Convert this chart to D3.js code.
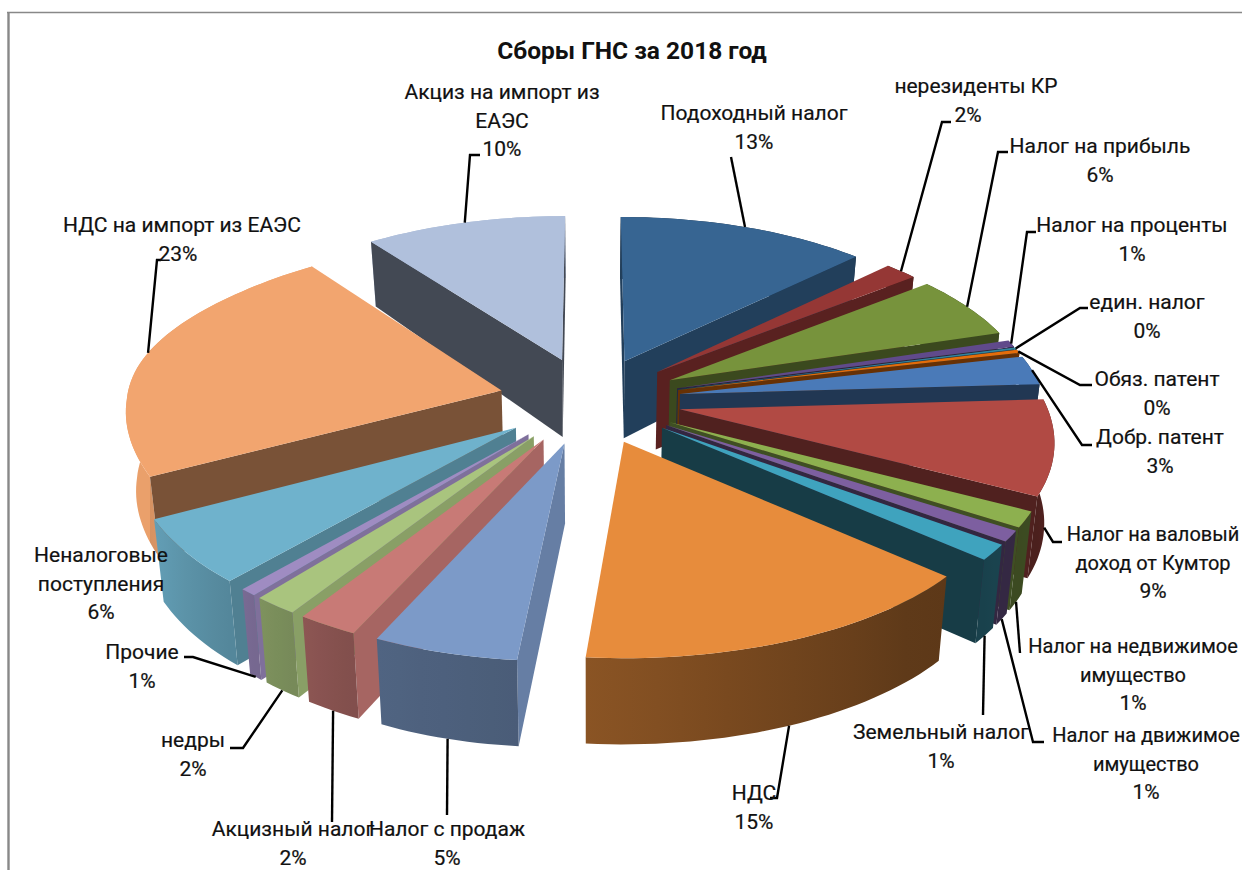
<!DOCTYPE html>
<html lang="ru">
<head>
    <meta charset="utf-8">
    <title>Сборы ГНС за 2018 год</title>
    <script src="https://cdn.jsdelivr.net/npm/d3@7"></script>
</head>
<style>
    body {
        margin: 0;
        padding: 0;
        background-color: #ffffff;
    }
    svg {
        display: block;
    }
    .label {
        font-family: Roboto, sans-serif;
        font-size: 21px;
        fill: #111111;
        stroke: #111111;
        stroke-width: 0.2;
        text-anchor: middle;
    }
    .chart-title {
        font-family: Roboto, sans-serif;
        font-size: 24.5px;
        font-weight: 700;
        fill: #111111;
        text-anchor: middle;
    }
    .leader {
        fill: none;
        stroke: #000000;
        stroke-width: 2.4;
    }
</style>
<body>
    <svg width="1242" height="870" id="chart"></svg>

    <script>
        // values, the labels are these rounded
        var categories = ["Подоходный налог", "нерезиденты КР", "Налог на прибыль", "Налог на проценты",
            "един. налог", "Обяз. патент", "Добр. патент", "Налог на валовый доход от Кумтор",
            "Налог на недвижимое имущество", "Налог на движимое имущество", "Земельный налог", "НДС",
            "Налог с продаж", "Акцизный налог", "недры", "Прочие", "Неналоговые поступления",
            "НДС на импорт из ЕАЭС", "Акциз на импорт из ЕАЭС"];
        var shares = [12.7, 1.67, 5.92, 0.64, 0.17, 0.31, 2.67, 8.56, 1.42, 0.97, 1.39, 14.86,
            5.45, 2.3, 1.7, 0.64, 5.83, 22.55, 10.2];
        var colors = ["#376592", "#953735", "#77933c", "#604a8b", "#31859c", "#e46c0a", "#4a7ab8", "#b14a44",
            "#8db04f", "#7d5fa0", "#3fa3be", "#e78c3c", "#7c9ac8", "#c87a76", "#a9c47e", "#9f8cc2",
            "#6fb2cc", "#f2a56f", "#b0c0dc"];

        // label layout: text lines, centre x, first baseline, leader elbows, leader from wall foot or not
        var labelLayout = [
            {lines: ["Подоходный налог"], x: 754, y: 120, elbows: [[731, 157]]},
            {lines: ["нерезиденты КР"], x: 976, y: 93, percentX: 968, elbows: [[942, 122], [951, 122]]},
            {lines: ["Налог на прибыль"], x: 1100, y: 153, elbows: [[998, 152], [1008, 152]]},
            {lines: ["Налог на проценты"], x: 1132, y: 232, elbows: [[1027, 232], [1036, 232]]},
            {lines: ["един. налог"], x: 1147, y: 309, elbows: [[1080, 308], [1088, 308]]},
            {lines: ["Обяз. патент"], x: 1157, y: 386, elbows: [[1080, 385], [1092, 385]]},
            {lines: ["Добр. патент"], x: 1160, y: 444, elbows: [[1082, 445], [1092, 445]]},
            // these three touch the right edge in the reference, a bit smaller keeps them whole
            {lines: ["Налог на валовый", "доход от Кумтор"], x: 1153, y: 541, size: 20, elbows: [[1053, 542], [1062, 542]], foot: true},
            {lines: ["Налог на недвижимое", "имущество"], x: 1133, y: 653, size: 20, elbows: [[1020, 653]], foot: true},
            {lines: ["Налог на движимое", "имущество"], x: 1146, y: 742, size: 20, elbows: [[1033, 742], [1044, 742]], foot: true},
            {lines: ["Земельный налог"], x: 941, y: 739, elbows: [[983, 715]], foot: true},
            {lines: ["НДС"], x: 754, y: 800, elbows: [[777, 798], [770, 798]], foot: true},
            {lines: ["Налог с продаж"], x: 447, y: 836, elbows: [[447, 815]], foot: true},
            {lines: ["Акцизный налог"], x: 293, y: 836, elbows: [[332, 822]], foot: true},
            {lines: ["недры"], x: 193, y: 747, elbows: [[243, 748], [230, 748]], foot: true},
            {lines: ["Прочие"], x: 142, y: 659, elbows: [[193, 657], [184, 657]], foot: true},
            {lines: ["Неналоговые", "поступления"], x: 101, y: 562, elbows: null},
            {lines: ["НДС на импорт из ЕАЭС"], x: 182, y: 232, percentX: 178, elbows: [[157, 260], [161, 260]]},
            {lines: ["Акциз на импорт из", "ЕАЭС"], x: 502, y: 99, elbows: [[470, 155], [480, 155]]}
        ];

        var svg = d3.select("#chart"),
            defs = svg.append("defs");

        // frame of the pasted chart
        svg.append("line").attr("x1", 7).attr("x2", 1242).attr("y1", 12.5).attr("y2", 12.5)
            .attr("stroke", "#888888").attr("stroke-width", 1.6);
        svg.append("line").attr("x1", 8.5).attr("x2", 8.5).attr("y1", 12).attr("y2", 870)
            .attr("stroke", "#888888").attr("stroke-width", 2.4);

        svg.append("text").attr("class", "chart-title").attr("x", 632).attr("y", 59)
            .text("Сборы ГНС за 2018 год");

        // the ground plane: pie units to pixels, with the near side stretched
        var cx = 590, cy = 400, radius = 365, depth = 174,
            perspNear = 0.15, perspFar = 0.125, perspY = 0.138, explode = 0.25;

        var wallHeight = d3.scaleLinear().domain([-1.03, -0.24, 1.2]).range([65, 77, 86]);
        var rimShade = d3.scaleLinear()
            .domain([90, 125, 135, 185, 205, 215, 240, 270])
            .range([0.45, 0.42, 0.39, 0.6, 0.65, 0.72, 0.88, 0.97])
            .clamp(true);
        var cutShade = d3.scaleLinear()
            .domain([23, 48, 62, 74, 120, 128, 158, 194, 208, 220, 231, 282, 341])
            .range([0.62, 0.6, 0.5, 0.45, 0.45, 0.37, 0.4, 0.82, 0.83, 0.8, 0.72, 0.5, 0.38])
            .clamp(true);

        function project(X, Y, foot) {
            var p = Y < 0 ? perspFar : perspNear;
            var sx = cx + radius * X / (1 - p * Y),
                sy = cy + depth * Y / (1 - perspY * Y);
            // the picture's near middle sits a little to the left
            if (Y > 0) sx -= 8 * Y * Math.max(0, 1 - Math.abs(X) / 0.8);
            if (foot) {
                sy += wallHeight(Y);
                sx -= (sx - cx) * 0.022;
            }
            return [sx, sy];
        }

        function shade(color, f) {
            var c = d3.rgb(color);
            return d3.rgb(c.r * f, c.g * f, c.b * f).formatHex();
        }

        function degrees(a) {
            return a * 180 / Math.PI;
        }

        var pie = d3.pie().sort(null).value(function(d) { return d; });
        var line = d3.line();

        var slices = pie(shares).map(function(d, i) {
            d.index = i;
            d.mid = (d.startAngle + d.endAngle) / 2;
            d.ax = explode * Math.sin(d.mid);
            d.ay = -explode * Math.cos(d.mid);
            return d;
        });

        function apex(d, foot) {
            return project(d.ax, d.ay, foot);
        }

        function rimPoint(d, a, foot) {
            // the left edge of the reference bulges out a bit
            var t = (degrees(a) - 280) / 25,
                r = 1 + 0.035 * Math.exp(-t * t);
            return project(d.ax + r * Math.sin(a), d.ay - r * Math.cos(a), foot);
        }

        function arcAngles(d) {
            var n = Math.max(2, Math.ceil(degrees(d.endAngle - d.startAngle) / 1.5));
            return d3.range(n + 1).map(function(k) {
                return d.startAngle + (d.endAngle - d.startAngle) * k / n;
            });
        }

        // which side of the line a-b does p lie on
        function side(a, b, p) {
            return (b[0] - a[0]) * (p[1] - a[1]) - (b[1] - a[1]) * (p[0] - a[0]);
        }

        function drawCut(g, d, a, otherA) {
            var A = apex(d, false), C = rimPoint(d, a, false), D = rimPoint(d, a, true), B = apex(d, true),
                E = rimPoint(d, otherA, false);
            // only the cut faces turned to the viewer
            if (side(A, C, B) * side(A, C, E) > 0) return;
            g.append("path")
                .attr("d", line([A, C, D, B]) + "Z")
                .attr("fill", shade(colors[d.index], cutShade(degrees(d.mid))));
        }

        function drawRim(g, d) {
            var angles = arcAngles(d);
            var top = angles.map(function(a) { return rimPoint(d, a, false); });
            var foot = angles.map(function(a) { return rimPoint(d, a, true); }).reverse();
            var x0 = top[0][0], x1 = top[top.length - 1][0];
            var grad = defs.append("linearGradient")
                .attr("id", "rim" + d.index)
                .attr("gradientUnits", "userSpaceOnUse")
                .attr("x1", x0).attr("x2", x1).attr("y1", 0).attr("y2", 0);
            var stops = d3.range(7).map(function(k) {
                var a = d.startAngle + (d.endAngle - d.startAngle) * k / 6;
                return {
                    offset: Math.abs(x1 - x0) < 1 ? k / 6 : (rimPoint(d, a, false)[0] - x0) / (x1 - x0),
                    color: shade(colors[d.index], rimShade(degrees(a)))
                };
            }).sort(function(p, q) { return p.offset - q.offset; });
            stops.forEach(function(s) {
                grad.append("stop")
                    .attr("offset", Math.max(0, Math.min(1, s.offset)))
                    .attr("stop-color", s.color);
            });
            g.append("path")
                .attr("d", line(top.concat(foot)) + "Z")
                .attr("fill", "url(#rim" + d.index + ")");
        }

        // far slices first, near slices paint over them
        var order = slices.slice().sort(function(p, q) {
            return Math.cos(q.mid) - Math.cos(p.mid);
        });

        var pieLayer = svg.append("g").attr("id", "pie");
        order.forEach(function(d) {
            var g = pieLayer.append("g");
            // a far slice's rim turns away, so it goes under its cut faces
            var far = Math.cos(d.mid) > 0;
            if (far) drawRim(g, d);
            drawCut(g, d, d.startAngle, d.endAngle);
            drawCut(g, d, d.endAngle, d.startAngle);
            if (!far) drawRim(g, d);
            var face = [apex(d, false)].concat(arcAngles(d).map(function(a) {
                return rimPoint(d, a, false);
            }));
            g.append("path")
                .attr("d", line(face) + "Z")
                .attr("fill", colors[d.index]);
        });

        // leaders start at the middle of each slice's rim
        var labels = svg.append("g").attr("id", "labels");
        slices.forEach(function(d) {
            var lay = labelLayout[d.index];
            if (lay.elbows) {
                var start = rimPoint(d, d.mid, lay.foot);
                labels.append("path")
                    .attr("class", "leader")
                    .attr("d", line([start].concat(lay.elbows)));
            }
            lay.lines.forEach(function(t, k) {
                labels.append("text").attr("class", "label")
                    .attr("x", lay.x).attr("y", lay.y + k * 28.5)
                    .style("font-size", lay.size ? lay.size + "px" : null)
                    .text(t);
            });
            labels.append("text").attr("class", "label")
                .attr("x", lay.percentX || lay.x).attr("y", lay.y + lay.lines.length * 28.5)
                .text(Math.round(shares[d.index]) + "%");
        });
    </script>
</body>
</html>
